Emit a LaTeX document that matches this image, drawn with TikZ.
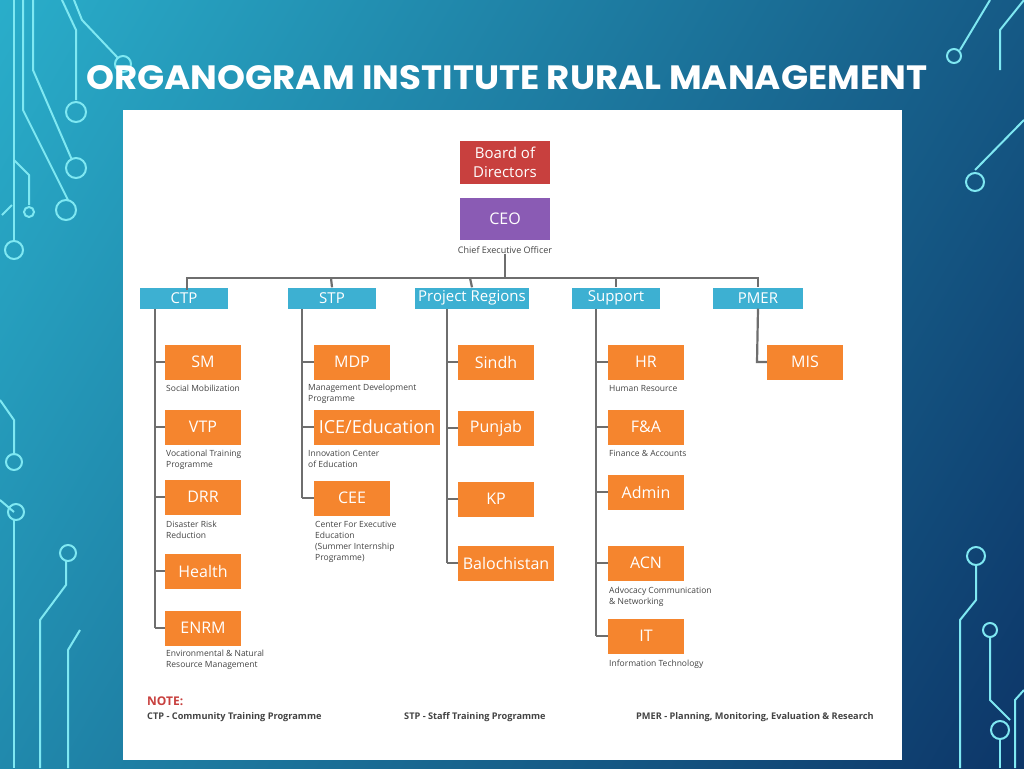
\documentclass[tikz,border=0pt]{standalone}
\usepackage{fontspec}
\usepackage{graphicx}
\setmainfont{Open Sans}
\newfontfamily\titlefont{Poppins}
\definecolor{bgA}{HTML}{2AB0CC}
\definecolor{bgB}{HTML}{0C3366}
\definecolor{circ}{HTML}{7FE8F2}
\definecolor{redb}{HTML}{C8403E}
\definecolor{purb}{HTML}{8A5BB4}
\definecolor{blueb}{HTML}{3DB0D2}
\definecolor{orb}{HTML}{F5852E}
\definecolor{lin}{HTML}{6E6E6E}
\definecolor{txt}{HTML}{444444}
\begin{document}
\begin{tikzpicture}[x=1pt,y=-1pt,
  top/.style={fill=blueb, minimum height=21pt, inner sep=0pt, text=white, font=\fontsize{15}{15}\selectfont},
  ob/.style={fill=orb, minimum height=35pt, inner sep=0pt, text=white, font=\fontsize{16}{16}\selectfont},
  sub/.style={anchor=north west, inner sep=0pt, text=txt, align=left, font=\fontsize{8.5}{11}\selectfont},
  ln/.style={draw=lin, line width=2.2pt},
  cl/.style={draw=circ, line width=2pt}]
\useasboundingbox (0,0) rectangle (1024,768);
\shade[shading=axis, left color=bgA, right color=bgB, shading angle=60] (-200,-200) rectangle (1224,968);
% circuit decorations
\draw[cl] (14,0) -- (14,240); \draw[cl] (14,250) circle (9);
\draw[cl] (23,0) -- (23,110) -- (68,200); \draw[cl] (66,210) circle (10);
\draw[cl] (33,0) -- (33,70) -- (72,160); \draw[cl] (76,168) circle (10);
\draw[cl] (62,0) -- (76,30) -- (76,100); \draw[cl] (76,112) circle (10);
\draw[cl] (74,0) -- (82,20) -- (118,58); \draw[cl] (123,64) circle (8);
\draw[cl] (14,160) -- (29,175) -- (29,205); \draw[cl] (29,212) circle (5);
\draw[cl] (2,215) -- (12,205);
\draw[cl] (0,400) -- (14,420) -- (14,455); \draw[cl] (14,462) circle (8);
\draw[cl] (0,500) -- (14,512); \draw[cl] (16,512) circle (8);
\draw[cl] (14,520) -- (14,768);
\draw[cl] (40,768) -- (40,620) -- (66,585) -- (66,560); \draw[cl] (68,553) circle (8);
\draw[cl] (68,768) -- (68,650) -- (80,630);
\draw[cl] (1024,0) -- (1000,30) -- (1000,70); \draw[cl] (990,0) -- (960,50); \draw[cl] (954,56) circle (7);
\draw[cl] (1024,120) -- (975,170); \draw[cl] (975,182) circle (9);
\draw[cl] (976,565) -- (976,600) -- (960,620) -- (960,768); \draw[cl] (976,556) circle (9);
\draw[cl] (990,637) -- (990,700) -- (1010,720); \draw[cl] (990,630) circle (7);
\draw[cl] (1000,768) -- (1000,740); \draw[cl] (1000,730) circle (9);
\draw[cl] (1015,768) -- (1015,700) -- (1024,690);
\node[anchor=west, text=white, inner sep=0pt] (title) at (86,78) {\resizebox{841pt}{24pt}{\titlefont\bfseries ORGANOGRAM INSTITUTE RURAL MANAGEMENT}};
\fill[white] (123,110) rectangle (902,760);
% top
\node[fill=redb, minimum width=90pt, minimum height=43pt, inner sep=0pt, text=white, align=center, font=\fontsize{15}{19}\selectfont] (bod) at (505,162) {Board of\\Directors};
\node[fill=purb, minimum width=90pt, minimum height=42pt, inner sep=0pt, text=white, font=\fontsize{16}{16}\selectfont] (ceo) at (505,219) {CEO};
\node[text=txt, inner sep=0pt, font=\fontsize{9}{10}\selectfont] (ceot) at (505,250) {Chief Executive Officer};
\node[top, minimum width=88pt] (ctp) at (184,298) {CTP};
\node[top, minimum width=114pt] (pr) at (472,298) {Project Regions};
\node[top, minimum width=88pt] (stp) at (332,298) {STP};
\node[top, minimum width=88pt] (sup) at (616,298) {Support};
\node[top, minimum width=90pt] (pmer) at (758,298) {PMER};
\coordinate (hl) at (187,278); \coordinate (hr) at (758,278);
\draw[ln] (ceot.south) -- (505,278);
\draw[ln] (187,290) -- (hl) -- (hr) -- (pmer.north);
\draw[ln] (331,278) -- (stp.north); \draw[ln] (470,278) -- (pr.north); \draw[ln] (616,278) -- (sup.north);
% CTP
\node[ob, minimum width=76pt] (sm) at (203,362) {SM};
\node[ob, minimum width=76pt] (vtp) at (203,427) {VTP};
\node[ob, minimum width=76pt] (drr) at (203,497) {DRR};
\node[ob, minimum width=76pt] (hea) at (203,571) {Health};
\node[ob, minimum width=76pt] (enrm) at (203,628) {ENRM};
\draw[ln] (155,309) -- (155,628);
\foreach \n in {sm,vtp,drr,hea,enrm} \draw[ln] (155,0 |- \n.west) -- (\n.west);
\node[sub] at (166,385) {Social Mobilization};
\node[sub] at (166,450) {Vocational Training\\Programme};
\node[sub] at (166,521) {Disaster Risk\\Reduction};
\node[sub] at (166,650) {Environmental \& Natural\\Resource Management};
% STP
\node[ob, minimum width=76pt] (mdp) at (352,362) {MDP};
\node[ob, minimum width=126pt, font=\fontsize{18}{18}\selectfont] (ice) at (377,427) {ICE/Education};
\node[ob, minimum width=76pt] (cee) at (352,498) {CEE};
\draw[ln] (302,309) -- (302,498);
\foreach \n in {mdp,ice,cee} \draw[ln] (302,0 |- \n.west) -- (\n.west);
\node[sub] at (308,384) {Management Development\\Programme};
\node[sub] at (308,450) {Innovation Center\\of Education};
\node[sub] at (315,521) {Center For Executive\\Education\\(Summer Internship\\Programme)};
% PR
\node[ob, minimum width=76pt] (sin) at (496,362) {Sindh};
\node[ob, minimum width=76pt] (pun) at (496,428) {Punjab};
\node[ob, minimum width=76pt] (kp) at (496,499) {KP};
\node[ob, minimum width=96pt] (bal) at (506,563) {Balochistan};
\draw[ln] (447,309) -- (447,563);
\foreach \n in {sin,pun,kp,bal} \draw[ln] (447,0 |- \n.west) -- (\n.west);
% Support
\node[ob, minimum width=76pt] (hr) at (646,362) {HR};
\node[ob, minimum width=76pt] (fa) at (646,427) {F\&A};
\node[ob, minimum width=76pt] (adm) at (646,492) {Admin};
\node[ob, minimum width=76pt] (acn) at (646,563) {ACN};
\node[ob, minimum width=76pt] (it) at (646,636) {IT};
\draw[ln] (596,309) -- (596,636);
\foreach \n in {hr,fa,adm,acn,it} \draw[ln] (596,0 |- \n.west) -- (\n.west);
\node[sub] at (609,385) {Human Resource};
\node[sub] at (609,450) {Finance \& Accounts};
\node[sub] at (609,587) {Advocacy Communication\\\& Networking};
\node[sub] at (609,660) {Information Technology};
% PMER
\node[ob, minimum width=76pt] (mis) at (805,362) {MIS};
\draw[ln] (pmer.south) -- (757,362) -- (mis.west);
% note
\node[anchor=west, inner sep=0pt, text=redb, font=\bfseries\fontsize{12}{12}\selectfont] (note) at (147,701) {NOTE:};
\node[anchor=west, inner sep=0pt, text=txt, font=\bfseries\fontsize{9.2}{10}\selectfont] (n1) at (147,717) {CTP - Community Training Programme};
\node[anchor=west, inner sep=0pt, text=txt, font=\bfseries\fontsize{9.2}{10}\selectfont] (n2) at (404,717) {STP - Staff Training Programme};
\node[anchor=west, inner sep=0pt, text=txt, font=\bfseries\fontsize{9.2}{10}\selectfont] (n3) at (636,717) {PMER - Planning, Monitoring, Evaluation \& Research};
\end{tikzpicture}
\end{document}
